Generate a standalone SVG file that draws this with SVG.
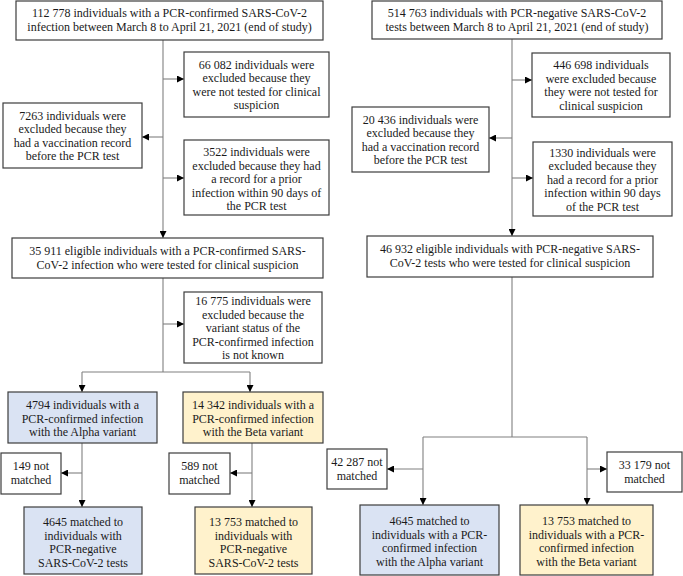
<svg xmlns="http://www.w3.org/2000/svg" width="683" height="576" viewBox="0 0 683 576">
<style>
.b{fill:#fff;stroke:#3c3c3c;stroke-width:1.2}
.blue{fill:#dae3f3}
.yel{fill:#fff2cc}
.c{fill:none;stroke:#808080;stroke-width:1.1}
.ca{fill:none;stroke:#808080;stroke-width:1.1;marker-end:url(#ah)}
text{font-family:"Liberation Serif","Times New Roman",serif;font-size:12px;fill:#1a1a1a;text-anchor:middle}
</style>
<defs>
<marker id="ah" viewBox="0 0 7 7" refX="7" refY="3.5" markerWidth="7" markerHeight="7" markerUnits="userSpaceOnUse" orient="auto">
<path d="M0,0 L7,3.5 L0,7 z" fill="#000"/>
</marker>
</defs>
<g id="connectors">
<path class="c" d="M163,40 V237"/>
<path class="ca" d="M163,237 V238"/>
<path class="ca" d="M163,79 H184"/>
<path class="ca" d="M163,137 H142"/>
<path class="ca" d="M163,178 H184"/>
<path class="c" d="M163,278 V372 M82,372 H250"/>
<path class="ca" d="M163,324 H184"/>
<path class="ca" d="M82,372 V392"/>
<path class="ca" d="M250,372 V392"/>
<path class="ca" d="M82,443 V507"/>
<path class="ca" d="M82,473 H61"/>
<path class="ca" d="M252,443 V507"/>
<path class="ca" d="M252,473 H230"/>
<path class="ca" d="M512,39 V236"/>
<path class="ca" d="M512,80 H532"/>
<path class="ca" d="M512,138 H489"/>
<path class="ca" d="M512,178 H533"/>
<path class="c" d="M512,277 V437 M423,437 H587"/>
<path class="ca" d="M423,437 V505"/>
<path class="ca" d="M587,437 V505"/>
<path class="ca" d="M423,469 H387"/>
<path class="ca" d="M587,469 H607"/>
</g>
<g id="nA"><rect class="b" x="16" y="1" width="307" height="39"/><text x="169.5" y="17">112 778 individuals with a PCR-confirmed SARS-CoV-2</text><text x="169.5" y="31">infection between March 8 to April 21, 2021 (end of study)</text></g>
<g id="nB"><rect class="b" x="184" y="52" width="145" height="65"/><text x="256.5" y="68.5">66 082 individuals were</text><text x="256.5" y="82">excluded because they</text><text x="256.5" y="95.5">were not tested for clinical</text><text x="256.5" y="109">suspicion</text></g>
<g id="nC"><rect class="b" x="3" y="103" width="139" height="65"/><text x="72.5" y="119.5">7263 individuals were</text><text x="72.5" y="133">excluded because they</text><text x="72.5" y="146.5">had a vaccination record</text><text x="72.5" y="160">before the PCR test</text></g>
<g id="nD"><rect class="b" x="184" y="140" width="145" height="75"/><text x="256.5" y="156">3522 individuals were</text><text x="256.5" y="169.5">excluded because they had</text><text x="256.5" y="183">a record for a prior</text><text x="256.5" y="196.5">infection within 90 days of</text><text x="256.5" y="210">the PCR test</text></g>
<g id="nE"><rect class="b" x="12" y="238" width="311" height="40"/><text x="167.5" y="254.5">35 911 eligible individuals with a PCR-confirmed SARS-</text><text x="167.5" y="268.5">CoV-2 infection who were tested for clinical suspicion</text></g>
<g id="nF"><rect class="b" x="184" y="292" width="138" height="71"/><text x="253" y="305">16 775 individuals were</text><text x="253" y="318.5">excluded because the</text><text x="253" y="332">variant status of the</text><text x="253" y="345.5">PCR-confirmed infection</text><text x="253" y="359">is not known</text></g>
<g id="nG"><rect class="b blue" x="8" y="392" width="149" height="51"/><text x="82.5" y="409">4794 individuals with a</text><text x="82.5" y="422.5">PCR-confirmed infection</text><text x="82.5" y="436">with the Alpha variant</text></g>
<g id="nH"><rect class="b yel" x="183" y="392" width="140" height="51"/><text x="253" y="409">14 342 individuals with a</text><text x="253" y="422.5">PCR-confirmed infection</text><text x="253" y="436">with the Beta variant</text></g>
<g id="nI"><rect class="b" x="1" y="453" width="60" height="41"/><text x="31" y="470">149 not</text><text x="31" y="484">matched</text></g>
<g id="nJ"><rect class="b blue" x="24" y="507" width="118" height="67"/><text x="83" y="526">4645 matched to</text><text x="83" y="539.5">individuals with</text><text x="83" y="553">PCR-negative</text><text x="83" y="566.5">SARS-CoV-2 tests</text></g>
<g id="nK"><rect class="b" x="169" y="453" width="61" height="41"/><text x="199.5" y="470">589 not</text><text x="199.5" y="484">matched</text></g>
<g id="nL"><rect class="b yel" x="195" y="507" width="117" height="67"/><text x="253.5" y="526">13 753 matched to</text><text x="253.5" y="539.5">individuals with</text><text x="253.5" y="553">PCR-negative</text><text x="253.5" y="566.5">SARS-CoV-2 tests</text></g>
<g id="nM"><rect class="b" x="372" y="1" width="290" height="38"/><text x="517" y="16.5">514 763 individuals with PCR-negative SARS-CoV-2</text><text x="517" y="30.5">tests between March 8 to April 21, 2021 (end of study)</text></g>
<g id="nN"><rect class="b" x="532" y="53" width="138" height="64"/><text x="601" y="69">446 698 individuals</text><text x="601" y="82.5">were excluded because</text><text x="601" y="96">they were not tested for</text><text x="601" y="109.5">clinical suspicion</text></g>
<g id="nO"><rect class="b" x="352" y="107" width="137" height="65"/><text x="420.5" y="123.5">20 436 individuals were</text><text x="420.5" y="137">excluded because they</text><text x="420.5" y="150.5">had a vaccination record</text><text x="420.5" y="164">before the PCR test</text></g>
<g id="nP"><rect class="b" x="533" y="142" width="139" height="74"/><text x="602.5" y="156.5">1330 individuals were</text><text x="602.5" y="170">excluded because they</text><text x="602.5" y="183.5">had a record for a prior</text><text x="602.5" y="197">infection within 90 days</text><text x="602.5" y="210.5">of the PCR test</text></g>
<g id="nQ"><rect class="b" x="367" y="236" width="286" height="41"/><text x="510" y="253">46 932 eligible individuals with PCR-negative SARS-</text><text x="510" y="267">CoV-2 tests who were tested for clinical suspicion</text></g>
<g id="nR"><rect class="b" x="327" y="449" width="60" height="40"/><text x="357" y="466">42 287 not</text><text x="357" y="480">matched</text></g>
<g id="nS"><rect class="b" x="607" y="452" width="75" height="40"/><text x="644.5" y="469">33 179 not</text><text x="644.5" y="483">matched</text></g>
<g id="nT"><rect class="b blue" x="360" y="505" width="139" height="70"/><text x="429.5" y="525">4645 matched to</text><text x="429.5" y="538.5">individuals with a PCR-</text><text x="429.5" y="552">confirmed infection</text><text x="429.5" y="565.5">with the Alpha variant</text></g>
<g id="nU"><rect class="b yel" x="520" y="505" width="133" height="70"/><text x="586.5" y="525">13 753 matched to</text><text x="586.5" y="538.5">individuals with a PCR-</text><text x="586.5" y="552">confirmed infection</text><text x="586.5" y="565.5">with the Beta variant</text></g>
</svg>
